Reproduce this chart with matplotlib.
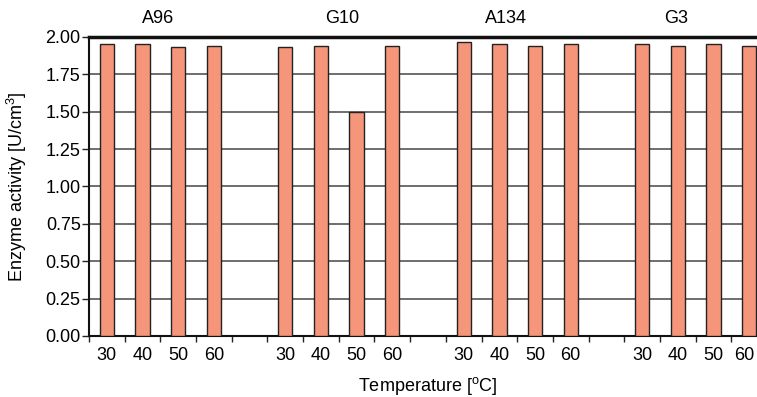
import numpy as np
import matplotlib
matplotlib.use("Agg")
import matplotlib.pyplot as plt
from matplotlib import ticker
from matplotlib.transforms import ScaledTranslation

plt.rcParams["font.family"] = ["Liberation Sans", "DejaVu Sans"]
plt.rcParams["mathtext.fontset"] = "custom"
plt.rcParams["mathtext.rm"] = "Liberation Sans"
plt.rcParams["mathtext.it"] = "Liberation Sans:italic"

strains = ["A96", "G10", "A134", "G3"]
temperatures = ["30", "40", "50", "60"]
activity = {
    "A96": [1.955, 1.955, 1.93, 1.94],
    "G10": [1.93, 1.94, 1.50, 1.94],
    "A134": [1.965, 1.955, 1.94, 1.955],
    "G3": [1.955, 1.94, 1.955, 1.94],
}

bar_color = "#F5967A"
fs = 13

fig = plt.figure(figsize=(7.57, 3.97), dpi=100)
ax = fig.add_axes([89 / 757, 61 / 397, 678 / 757, 299 / 397])

# each strain takes 4 slots, one empty slot between groups
slot_x, slot_labels, values = [], [], []
for g, name in enumerate(strains):
    for t, temp in enumerate(temperatures):
        slot_x.append(g * 5 + t + 0.5)
        slot_labels.append(temp)
        values.append(activity[name][t])

ax.bar(slot_x, values, width=0.4, color=bar_color, edgecolor="#222222",
       linewidth=1.0, zorder=3)

n_slots = len(strains) * 5 - 1
ax.set_xlim(0, n_slots)
ax.set_ylim(0, 2.0)

ax.set_xticks(slot_x)
ax.set_xticklabels(slot_labels, fontsize=fs)
ax.xaxis.set_minor_locator(ticker.FixedLocator(np.arange(0, n_slots + 1)))
ax.tick_params(axis="x", which="major", length=0, pad=8)
ax.tick_params(axis="x", which="minor", length=4, width=1, color="#222222")

ax.set_yticks(np.arange(0, 2.01, 0.25))
ax.yaxis.set_major_formatter(ticker.FormatStrFormatter("%.2f"))
ax.tick_params(axis="y", length=5, width=1, color="#222222", pad=1, labelsize=fs)

# keep the last temperature label inside the figure edge
last = ax.get_xticklabels()[-1]
last.set_transform(last.get_transform() + ScaledTranslation(-5 / 100, 0, fig.dpi_scale_trans))

ax.grid(axis="y", color="#555555", linewidth=1.2, zorder=0)
ax.set_axisbelow(True)

for side in ["left", "bottom"]:
    ax.spines[side].set_linewidth(1.5)
    ax.spines[side].set_color("#111111")
ax.spines["top"].set_linewidth(2.5)
ax.spines["top"].set_color("#111111")
ax.spines["right"].set_visible(False)

# strain names above the groups
name_x = [1.93, 7.09, 11.69, 16.46]
for name, x in zip(strains, name_x):
    ax.text(x, 2.07, name, ha="center", va="bottom", fontsize=fs)

ax.set_xlabel("Temperature [$^\\mathrm{o}$C]", fontsize=fs, labelpad=8)
ax.set_ylabel("Enzyme activity [U/cm$^\\mathrm{3}$]", fontsize=fs, labelpad=12)

fig.savefig("out.png", dpi=100)
